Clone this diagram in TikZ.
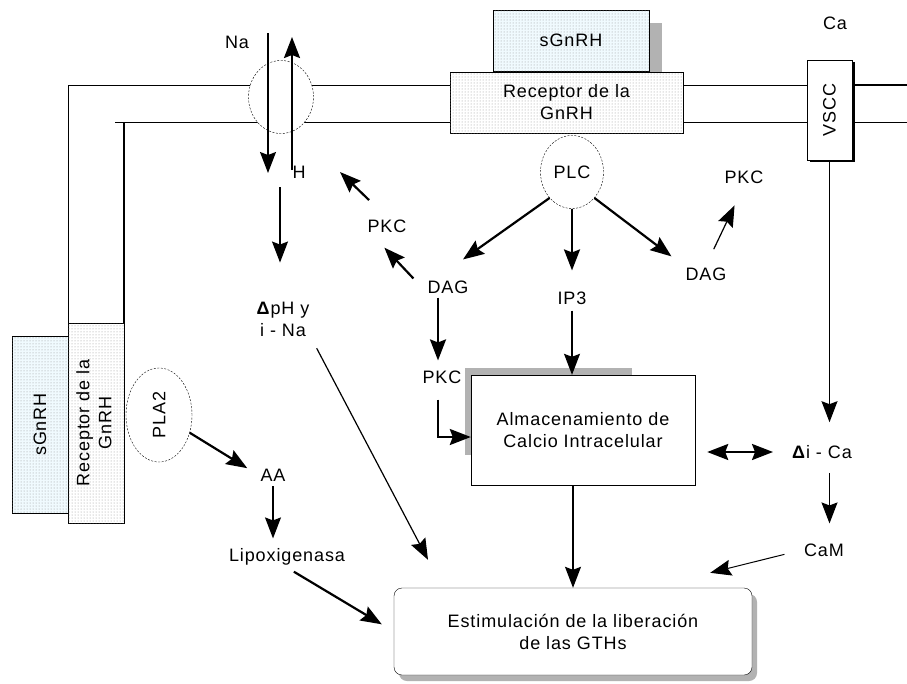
\documentclass[tikz,border=0pt]{standalone}
\usepackage{fontspec}
\usepackage{graphicx}
\setmainfont{Liberation Sans}[LetterSpace=5]
\usetikzlibrary{arrows.meta,shapes.geometric,patterns}

\newcommand{\vlbl}[1]{\rotatebox{90}{\begin{tabular}{@{}c@{}}#1\end{tabular}}}

\tikzset{
  >={Stealth[length=21pt,width=16pt,inset=3pt]},
  txt/.style={font=\fontsize{18}{22}\selectfont, inner sep=2pt, align=center},
  box/.style={txt, draw, fill=white, inner sep=0pt},
  dotbox/.style={box, postaction={pattern=dots, pattern color=gray!85}},
  chan/.style={txt, draw, ellipse, dash pattern=on 2pt off 1.5pt, fill=white, inner sep=0pt},
  shade/.style={fill=gray!60},
  arr/.style={->, line width=1.2pt},
  thickarr/.style={->, line width=2.2pt},
}

\begin{document}
\begin{tikzpicture}[x=1pt,y=-1pt]
  \useasboundingbox (0,0) rectangle (907,683);
  \fill[white] (0,0) rectangle (907,683);

  \fill[shade] (506,23) rectangle (662,84);
  \fill[shade] (465,368) rectangle (632,455);
  \fill[shade, rounded corners=8pt] (399,594) rectangle (757,681);
  \fill[black] (809.5,62) rectangle (854.5,162);

  \draw (68,323) -- (68,85) -- (907,85);
  \draw (115,122) -- (907,122);
  \draw[line width=1.5pt] (124,122) -- (124,323);
  \draw[line width=2pt] (852,85) -- (907,85);

  \node[dotbox, fill=cyan!6, minimum width=156pt, minimum height=61pt] (sgtop) at (571,40.5) {sGnRH};
  \node[dotbox, minimum width=233pt, minimum height=61pt] (rectop) at (566.5,102.5) {Receptor de la\\GnRH};
  \node[box, minimum width=45pt, minimum height=100pt] (vscc) at (829.5,110) {\rotatebox{90}{VSCC}};
  \node[dotbox, fill=cyan!6, minimum width=56pt, minimum height=177pt] (sgleft) at (40,424.5) {\rotatebox{90}{sGnRH}};
  \node[dotbox, minimum width=56pt, minimum height=200pt] (recleft) at (96,423) {\vlbl{Receptor de la\\GnRH}};

  \node[chan, minimum width=65pt, minimum height=73pt] (na) at (281,97) {};
  \node[chan, minimum width=63pt, minimum height=73pt] (plc) at (572,172) {PLC};
  \node[chan, minimum width=66pt, minimum height=94pt] (pla2) at (159,415) {\rotatebox{90}{PLA2}};

  \node[box, minimum width=224pt, minimum height=110pt] (almac) at (583,430) {Almacenamiento de\\Calcio Intracelular};
  \node[box, rounded corners=8pt, minimum width=358pt, minimum height=87pt] (estim) at (573,631.5) {Estimulación de la liberación\\de las GTHs};

  \node[txt] (nalbl) at (237,42) {Na};
  \node[txt] (hlbl) at (299,172) {H};
  \node[txt] (calbl) at (835,23) {Ca};
  \node[txt] (pkcl) at (387,226) {PKC};
  \node[txt] (dagl) at (448,287) {DAG};
  \node[txt] (ip3) at (572,298) {IP3};
  \node[txt] (dagr) at (706,274) {DAG};
  \node[txt] (pkcr) at (744,177) {PKC};
  \node[txt] (pkcm) at (442,377) {PKC};
  \node[txt] (dph) at (283,319) {\textbf{Δ}pH y\\i - Na};
  \node[txt] (aa) at (273,475) {AA};
  \node[txt] (lipox) at (287,557) {Lipoxigenasa};
  \node[txt] (dica) at (822,452) {\textbf{Δ}i - Ca};
  \node[txt] (cam) at (824,550) {CaM};

  \coordinate (natop) at (268,33);
  \coordinate (nabot) at (268,173);
  \coordinate (hbot) at (292,170);
  \coordinate (htop) at (292,37);
  \coordinate (naout) at (280,187);
  \coordinate (pkcout) at (340,172);

  \draw[arr] (natop) -- (nabot);
  \draw[thickarr] (hbot) -- (htop);
  \draw[arr, shorten >=37pt] (naout) -- (naout |- dph.north);
  \draw[arr, shorten <=11pt] (dph.south east) -- ([xshift=-145pt,yshift=28pt]estim.north);

  \draw[thickarr] (plc.south west) -- ([xshift=15pt,yshift=19pt]dagl.north);
  \draw[thickarr, shorten >=19pt] (plc.south) -- (ip3.north);
  \draw[thickarr, shorten >=15pt] (plc.south east) -- (dagr.north west);
  \draw[arr, shorten <=18pt, shorten >=22pt] (dagr.north) -- (pkcr.south);

  \draw[thickarr, shorten >=18pt] ([xshift=-12pt]dagl.north west) -- ([xshift=-15pt]pkcl.south);
  \draw[thickarr, shorten <=25pt] (pkcl.north) -- (pkcout);
  \draw[thickarr, shorten <=2pt, shorten >=8pt] ([xshift=-10pt]dagl.south) -- ([xshift=-4pt]pkcm.north);
  \draw[thickarr, shorten <=14pt] ([xshift=-4pt]pkcm.south) |- ([yshift=-7pt]almac.west);

  \draw[arr, shorten <=4pt] (ip3.south) -- (ip3.south |- almac.north);
  \draw[arr] (estim.north |- almac.south) -- (estim.north);

  \draw[arr, shorten >=21pt] (vscc.south) -- (vscc.south |- dica.north);
  \draw[arr, shorten <=12pt, shorten >=18pt] (vscc.south |- dica.south) -- (vscc.south |- cam.north);
  \draw[arr, line width=1pt, shorten <=18pt] (cam.west) -- ([xshift=-42pt,yshift=15pt]estim.north east);
  \draw[thickarr, <->, shorten <=12pt, shorten >=17pt] (almac.east |- dica.west) -- (dica.west);

  \draw[thickarr, shorten >=13pt] (pla2.-30) -- (aa.west);
  \draw[arr, shorten <=3pt, shorten >=8pt] (aa.south) -- (aa.south |- lipox.north);
  \draw[thickarr, shorten <=8pt, shorten >=14pt] (lipox.south) -- (estim.west);
\end{tikzpicture}
\end{document}
